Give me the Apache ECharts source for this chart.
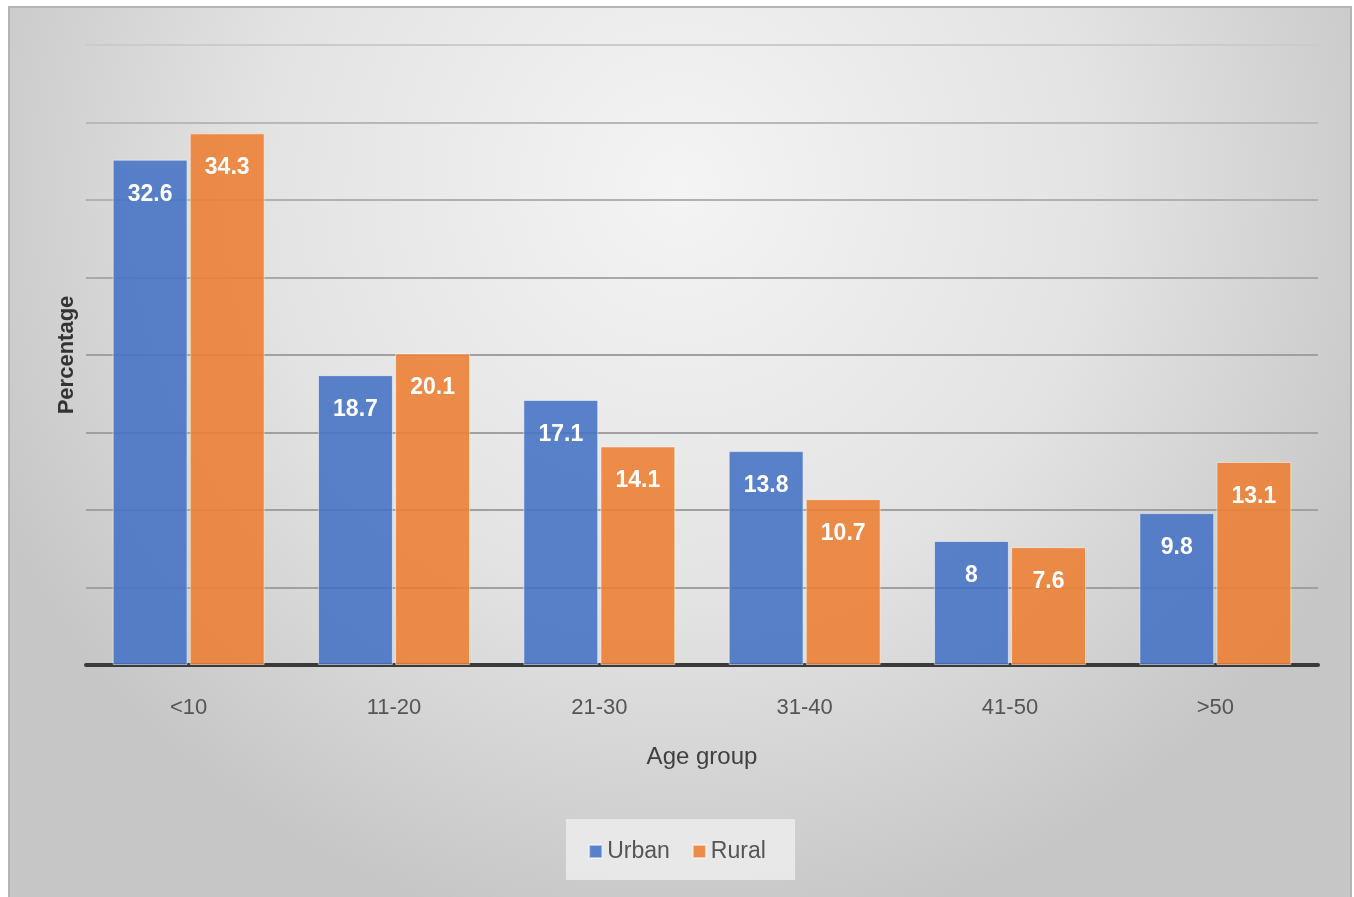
<!DOCTYPE html>
<html>
<head>
<meta charset="utf-8">
<script src="https://cdn.jsdelivr.net/npm/echarts@6/dist/echarts.min.js"></script>
<style>
html,body{margin:0;padding:0;background:#fff;}
#chart{width:1354px;height:897px;}
</style>
</head>
<body>
<div id="chart"></div>
<script>
const categories = ['<10', '11-20', '21-30', '31-40', '41-50', '>50'];
const urban = [32.6, 18.7, 17.1, 13.8, 8, 9.8];
const rural = [34.3, 20.1, 14.1, 10.7, 7.6, 13.1];
const seriesNames = ['Urban', 'Rural'];

const FONT = "'Liberation Sans Narrow', 'Liberation Sans', sans-serif";
const chart = echarts.init(document.getElementById('chart'));

const labelStyle = {
  show: true,
  position: 'insideTop',
  distance: 23,
  color: '#ffffff',
  fontSize: 23,
  fontFamily: FONT,
  fontWeight: 'bold'
};

chart.setOption({
  animation: false,
  backgroundColor: '#ffffff',
  textStyle: { fontFamily: FONT },
  graphic: [{
    type: 'rect',
    z: -10,
    silent: true,
    shape: { x: 9, y: 7, width: 1342, height: 892 },
    style: {
      fill: new echarts.graphic.RadialGradient(0.5, 0.2, 0.85, [
        { offset: 0, color: '#f4f4f4' },
        { offset: 0.55, color: '#e3e3e3' },
        { offset: 1, color: '#c6c6c6' }
      ]),
      stroke: '#b4b4b4',
      lineWidth: 2
    }
  }, {
    type: 'rect',
    z: -5,
    silent: true,
    shape: { x: 566, y: 819, width: 229, height: 61 },
    style: { fill: 'rgba(236,236,236,0.85)' }
  }],
  grid: { left: 86, right: 1354 - 1318, top: 45, bottom: 897 - 665 },
  legend: {
    data: seriesNames,
    left: 'center',
    top: 835,
    itemWidth: 13,
    itemHeight: 13,
    itemGap: 22,
    icon: 'rect',
    textStyle: { fontSize: 23, color: '#555555', fontFamily: FONT }
  },
  xAxis: {
    type: 'category',
    data: categories,
    name: 'Age group',
    nameLocation: 'middle',
    nameGap: 80,
    nameTextStyle: { fontSize: 24, color: '#404040', fontFamily: FONT },
    axisLine: { show: true, lineStyle: { color: '#3a3a3a', width: 4 } },
    axisTick: { show: false },
    axisLabel: { fontSize: 22, color: '#555555', margin: 32, fontFamily: FONT }
  },
  yAxis: {
    type: 'value',
    min: 0,
    max: 40,
    interval: 5,
    name: 'Percentage',
    nameLocation: 'middle',
    nameGap: 8,
    nameTextStyle: { fontSize: 22, color: '#333333', fontWeight: 'bold', fontFamily: FONT },
    axisLabel: { show: false },
    axisLine: { show: false },
    axisTick: { show: false },
    splitLine: { show: true, lineStyle: {
      color: ['#a0a0a0', '#a0a0a0', '#a0a0a0', '#a0a0a0', '#a0a0a0', '#a8a8a8', '#b0b0b0', '#b8b8b8', '#cbcbcb'],
      width: 2 } }
  },
  series: [{
    name: seriesNames[0],
    type: 'bar',
    data: urban,
    barGap: '3%',
    barCategoryGap: '26%',
    itemStyle: { color: 'rgba(68,114,196,0.88)', borderColor: 'rgba(255,255,255,0.5)', borderWidth: 1 },
    label: labelStyle
  }, {
    name: seriesNames[1],
    type: 'bar',
    data: rural,
    itemStyle: { color: 'rgba(237,125,49,0.88)', borderColor: 'rgba(255,255,255,0.5)', borderWidth: 1 },
    label: labelStyle
  }]
});
</script>
</body>
</html>
